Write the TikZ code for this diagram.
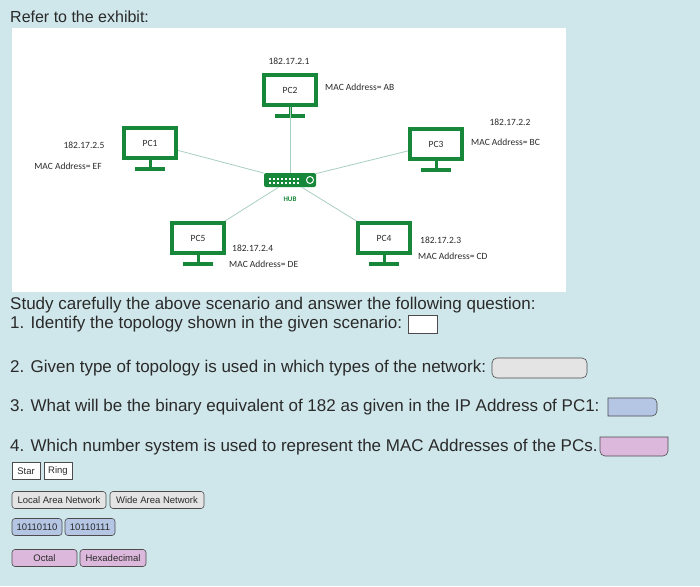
\documentclass[tikz,border=0pt]{standalone}
\usepackage{fontspec}
\setmainfont{Liberation Sans}
\newfontfamily\carl{Carlito}
\definecolor{bgc}{HTML}{CFE6EA}
\definecolor{grn}{HTML}{17883A}
\definecolor{lnc}{HTML}{A8CFC0}
\definecolor{txt}{HTML}{2A2A2A}
\definecolor{gry}{HTML}{E4E4E4}
\definecolor{blu}{HTML}{B4C6E4}
\definecolor{pnk}{HTML}{DCB8DC}
\begin{document}
\begin{tikzpicture}[x=1pt,y=-1pt,
 lbl/.style={font=\carl\fontsize{9.5}{10}\selectfont,text=txt,inner sep=0pt},
 q/.style={anchor=west,font=\fontsize{17}{19}\selectfont,text=txt,inner sep=0pt},
 ans/.style={draw=black!70,line width=0.6pt,font=\fontsize{9.5}{10}\selectfont,inner sep=0pt,minimum height=17pt,text=txt},
 scr/.style={draw=grn,line width=4pt,fill=white,minimum width=52pt,minimum height=30pt,font=\carl\fontsize{9.5}{10}\selectfont,text=txt},
 link/.style={draw=lnc,line width=0.8pt}]
\fill[bgc] (0,0) rectangle (700,586);
\fill[white] (12,28) rectangle (566,292);
\node[anchor=west,font=\fontsize{16}{18}\selectfont,text=txt,inner sep=0pt] (title) at (10,17) {Refer to the exhibit:};
% hub
\node[fill=grn,rounded corners=2pt,minimum width=52pt,minimum height=14pt,inner sep=0pt] (hub) at (290,180) {};
\foreach \i in {0,...,7}{\fill[white] (269+\i*4,178) rectangle ++(2,1.5);\fill[white] (269+\i*4,182) rectangle ++(2,1.5);}
\draw[white,line width=1pt] (310,180) circle (3.5);
\node[lbl,text=grn,font=\carl\bfseries\fontsize{7}{8}\selectfont] (hubl) at (290,199) {HUB};
% PCs
\foreach \n/\x/\y in {pc1/150/143,pc2/290/90,pc3/436/144,pc4/384/238,pc5/198/238}{
 \draw[grn,line width=3pt] (\x,\y+16) -- (\x,\y+25);
 \draw[grn,line width=4pt] (\x-15,\y+26) -- (\x+15,\y+26);
}
\draw[link] (hub) -- (150,143);
\draw[link] (hub) -- (290,90);
\draw[link] (hub) -- (436,144);
\draw[link] (hub) -- (384,238);
\draw[link] (hub) -- (198,238);
\node[scr] (pc1) at (150,143) {PC1};
\node[scr] (pc2) at (290,90) {PC2};
\node[scr] (pc3) at (436,144) {PC3};
\node[scr] (pc4) at (384,238) {PC4};
\node[scr] (pc5) at (198,238) {PC5};
\node[lbl] (ip2) at (289,61) {182.17.2.1};
\node[lbl,anchor=west] (mac2) at (325,87) {MAC Address= AB};
\node[lbl] (ip1) at (84,145) {182.17.2.5};
\node[lbl] (mac1) at (68,166) {MAC Address= EF};
\node[lbl] (ip3) at (510,122) {182.17.2.2};
\node[lbl,anchor=west] (mac3) at (471,142) {MAC Address= BC};
\node[lbl,anchor=west] (ip4) at (420,240) {182.17.2.3};
\node[lbl,anchor=west] (mac4) at (418,256) {MAC Address= CD};
\node[lbl,anchor=west] (ip5) at (232,248) {182.17.2.4};
\node[lbl,anchor=west] (mac5) at (229,264) {MAC Address= DE};
% questions
\node[q] (t0) at (10,305) {Study carefully the above scenario and answer the following question:};
\node[q] (t1) at (10,324) {1. Identify the topology shown in the given scenario:};
\node[q] (t2) at (10,368) {2. Given type of topology is used in which types of the network:};
\node[q] (t3) at (10,407) {3. What will be the binary equivalent of 182 as given in the IP Address of PC1:};
\node[q] (t4) at (10,447) {4. Which number system is used to represent the MAC Addresses of the PCs.};
\draw[black!70,fill=white,line width=0.6pt] (408,315) rectangle (437,333);
\draw[black!70,fill=gry,line width=0.6pt,rounded corners=5pt] (492,358) rectangle (587,378);
\draw[black!70,fill=blu,line width=0.6pt] (608,398) -- (650,398) [rounded corners=5pt] -- (657,398) -- (657,416) [sharp corners] -- (608,416) -- cycle;
\draw[black!70,fill=pnk,line width=0.6pt] (600,437) -- (668,437) [rounded corners=5pt] -- (668,456) -- (600,456) [sharp corners] -- cycle;
% answers
\node[ans,fill=white,minimum width=28pt] (a1) at (26,471) {Star};
\node[ans,fill=white,minimum width=28pt] (a2) at (58,471) {Ring};
\node[ans,fill=gry,rounded corners=3pt,minimum width=94pt] (b1) at (59,500) {Local Area Network};
\node[ans,fill=gry,rounded corners=3pt,minimum width=94pt] (b2) at (157,500) {Wide Area Network};
\node[ans,fill=blu,rounded corners=3pt,minimum width=50pt] (c1) at (37,527) {10110110};
\node[ans,fill=blu,rounded corners=3pt,minimum width=50pt] (c2) at (90,527) {10110111};
\node[ans,fill=pnk,rounded corners=3pt,minimum width=65pt] (d1) at (44.5,558) {Octal};
\node[ans,fill=pnk,rounded corners=3pt,minimum width=66pt] (d2) at (113,558) {Hexadecimal};
\end{tikzpicture}
\end{document}
